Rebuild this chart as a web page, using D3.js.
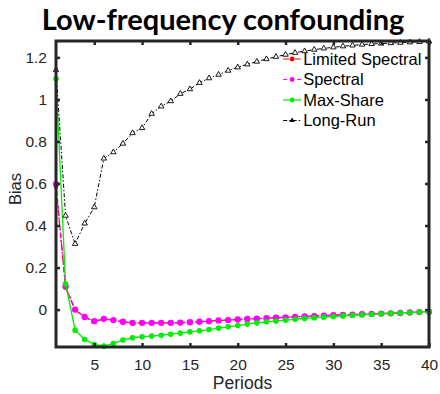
<!DOCTYPE html>
<html>
<head>
<meta charset="utf-8">
<script src="https://cdn.jsdelivr.net/npm/d3@7"></script>
<style>
  body { margin: 0; background: #fff; }
  svg { display: block; font-family: "Liberation Sans", Arial, sans-serif; }
</style>
</head>
<body>
<svg id="chart" width="440" height="394"></svg>
<script>
const periods = d3.range(1, 41)

const limitedSpectral = [0.585, 0.105, -0.002, -0.036, -0.056, -0.045, -0.051, -0.058, -0.063, -0.063,
  -0.063, -0.063, -0.063, -0.062, -0.060, -0.058, -0.055, -0.052, -0.050, -0.047,
  -0.045, -0.043, -0.041, -0.039, -0.037, -0.035, -0.033, -0.031, -0.029, -0.027,
  -0.025, -0.024, -0.022, -0.021, -0.019, -0.018, -0.016, -0.014, -0.012, -0.010]
const spectral = [0.597, 0.11, 0.0, -0.035, -0.055, -0.044, -0.05, -0.058, -0.063, -0.063,
  -0.063, -0.063, -0.063, -0.062, -0.060, -0.058, -0.055, -0.052, -0.050, -0.047,
  -0.045, -0.043, -0.041, -0.039, -0.037, -0.035, -0.033, -0.031, -0.029, -0.027,
  -0.025, -0.024, -0.022, -0.021, -0.019, -0.018, -0.016, -0.014, -0.012, -0.010]
const maxShare = [1.098, 0.123, -0.098, -0.142, -0.166, -0.174, -0.161, -0.145, -0.134, -0.129,
  -0.126, -0.122, -0.117, -0.112, -0.106, -0.101, -0.095, -0.088, -0.082, -0.076,
  -0.069, -0.063, -0.058, -0.054, -0.050, -0.046, -0.042, -0.039, -0.036, -0.033,
  -0.030, -0.027, -0.025, -0.022, -0.020, -0.018, -0.016, -0.014, -0.012, -0.010]
const longRun = [1.14, 0.447, 0.313, 0.41, 0.487, 0.719, 0.749, 0.79, 0.84, 0.864,
  0.932, 0.967, 0.992, 1.027, 1.049, 1.079, 1.101, 1.118, 1.137, 1.153,
  1.167, 1.180, 1.192, 1.203, 1.213, 1.222, 1.230, 1.237, 1.243, 1.248,
  1.253, 1.257, 1.261, 1.264, 1.266, 1.268, 1.270, 1.272, 1.274, 1.276]

const xTicks = [5, 10, 15, 20, 25, 30, 35, 40]
const yTicks = [0, 0.2, 0.4, 0.6, 0.8, 1, 1.2]

const series = [
  { name: "Limited Spectral", values: limitedSpectral, color: "#ff0000", dash: "6,2,1.5,2", marker: "dot", r: 2.2 },
  { name: "Spectral", values: spectral, color: "#ff00ff", dash: "4,3", marker: "dot", r: 3.2 },
  { name: "Max-Share", values: maxShare, color: "#00ee00", dash: null, marker: "dot", r: 2.8 },
  { name: "Long-Run", values: longRun, color: "#000000", dash: "4,2,1.5,2", marker: "tri", r: 3 },
]

const margin = { top: 41, right: 11, bottom: 47, left: 56 }
const width = 440
const height = 394
const innerWidth = width - margin.left - margin.right
const innerHeight = height - margin.top - margin.bottom

const svg = d3.select("#chart")
const g = svg.append("g").attr("transform", `translate(${margin.left},${margin.top})`)

const x = d3.scaleLinear().domain([1, 40]).range([0, innerWidth])
const y = d3.scaleLinear().domain([-0.178, 1.278]).range([innerHeight, 0])

const line = d3.line().x((d, i) => x(periods[i])).y((d) => y(d))

series.forEach((s) => {
  g.append("path")
    .datum(s.values)
    .attr("d", line)
    .attr("fill", "none")
    .attr("stroke", s.color)
    .attr("stroke-width", s.marker == "tri" ? 1 : 1.3)
    .attr("stroke-dasharray", s.dash)

  if (s.marker == "dot") {
    g.selectAll(null)
      .data(s.values)
      .enter()
      .append("circle")
      .attr("cx", (d, i) => x(periods[i]))
      .attr("cy", (d) => y(d))
      .attr("r", s.r)
      .attr("fill", s.color)
  } else {
    const tri = d3.symbol().type(d3.symbolTriangle).size(13)
    g.selectAll(null)
      .data(s.values)
      .enter()
      .append("path")
      .attr("d", tri)
      .attr("transform", (d, i) => `translate(${x(periods[i])},${y(d)})`)
      .attr("fill", "#fff")
      .attr("stroke", "#000")
      .attr("stroke-width", 0.9)
  }
})

// box with inward ticks on all sides
const axisColor = "#262626"
const tickLen = 4

const bottomAxis = g.append("g")
  .attr("transform", `translate(0,${innerHeight})`)
  .call(d3.axisBottom(x).tickValues(xTicks).tickSize(-tickLen).tickPadding(12))
const topAxis = g.append("g")
  .call(d3.axisTop(x).tickValues(xTicks).tickSize(-tickLen))
const leftAxis = g.append("g")
  .call(d3.axisLeft(y).tickValues(yTicks).tickSize(-tickLen).tickPadding(9).tickFormat(d3.format("~g")))
const rightAxis = g.append("g")
  .attr("transform", `translate(${innerWidth},0)`)
  .call(d3.axisRight(y).tickValues(yTicks).tickSize(-tickLen))

topAxis.selectAll("text").remove()
rightAxis.selectAll("text").remove()

;[bottomAxis, topAxis, leftAxis, rightAxis].forEach((a) => {
  a.select(".domain").remove()
  a.selectAll(".tick line").attr("stroke", axisColor).attr("stroke-width", 2.5)
  a.selectAll("text")
    .attr("fill", axisColor)
    .style("font-size", "15.5px")
    .style("font-family", "'Liberation Sans', Arial, sans-serif")
})

g.append("rect")
  .attr("x", 0)
  .attr("y", 0)
  .attr("width", innerWidth)
  .attr("height", innerHeight)
  .attr("fill", "none")
  .attr("stroke", axisColor)
  .attr("stroke-width", 3)

// labels
svg.append("text")
  .attr("x", 223)
  .attr("y", 30)
  .attr("text-anchor", "middle")
  .style("font-family", "Lato, sans-serif")
  .style("font-weight", "bold")
  .style("font-size", "29px")
  .attr("fill", "#000")
  .text("Low-frequency confounding")

svg.append("text")
  .attr("x", margin.left + innerWidth / 2)
  .attr("y", 389)
  .attr("text-anchor", "middle")
  .style("font-size", "17.5px")
  .attr("fill", axisColor)
  .text("Periods")

svg.append("text")
  .attr("transform", `translate(21,189) rotate(-90)`)
  .attr("text-anchor", "middle")
  .style("font-size", "16.5px")
  .attr("fill", axisColor)
  .text("Bias")

// legend
const legend = g.append("g").attr("transform", `translate(${x(24.75)},18)`)
series.forEach((s, i) => {
  const row = legend.append("g").attr("transform", `translate(0,${i * 20.5})`)
  row.append("line")
    .attr("x1", 0).attr("x2", 18)
    .attr("stroke", s.color)
    .attr("stroke-width", 1.2)
    .attr("stroke-dasharray", s.dash)
  if (s.marker == "dot") {
    row.append("circle").attr("cx", 9).attr("r", 2.4).attr("fill", s.color)
  } else {
    row.append("path")
      .attr("d", d3.symbol().type(d3.symbolTriangle).size(12))
      .attr("transform", "translate(9,0)")
      .attr("fill", "#000")
  }
  row.append("text")
    .attr("x", 20)
    .attr("dy", "0.35em")
    .style("font-size", "16.5px")
    .attr("fill", "#000")
    .text(s.name)
})
</script>
</body>
</html>
